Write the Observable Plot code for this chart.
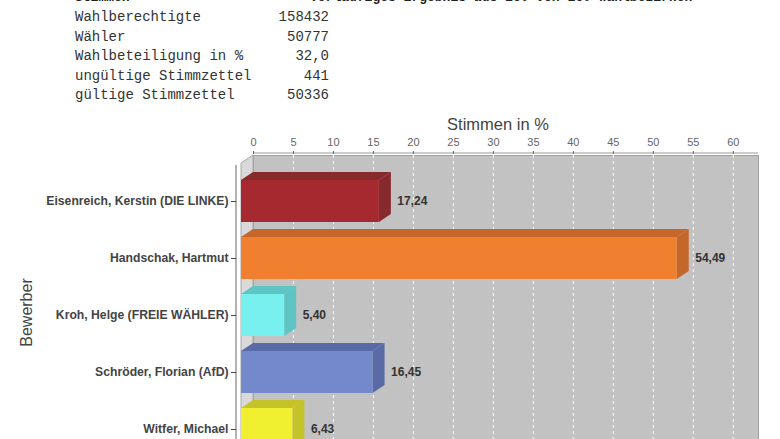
<!DOCTYPE html>
<html>
<head>
<meta charset="utf-8">
<script src="https://cdn.jsdelivr.net/npm/d3@7"></script>
<script src="https://cdn.jsdelivr.net/npm/@observablehq/plot@0.6"></script>
<style>
  html, body { margin: 0; padding: 0; background: #ffffff; overflow: hidden; }
  #page { position: relative; width: 780px; height: 439px; overflow: hidden; }
  .mono { position: absolute; font-family: "Liberation Mono", "DejaVu Sans Mono", monospace; font-size: 14px; line-height: 19.5px; color: #333; white-space: pre; }
  .topline { position: absolute; top: -10px; font-family: "Liberation Mono", monospace; font-weight: bold; font-size: 13px; color: #222; white-space: pre; }
  #chart { position: absolute; left: 0; top: 105px; }
</style>
</head>
<body>
<div id="page">
  <div class="topline" style="left:75px">Stimmen *</div>
  <div class="topline" style="left:310px">Vorläufiges Ergebnis aus 160 von 160 Wahlbezirken</div>
  <div id="infoLabels" class="mono" style="left:75px; top:8px;"></div>
  <div id="infoValues" class="mono" style="left:229px; top:8px; width:100px; text-align:right;"></div>
  <div id="chart"></div>
</div>
<script>
// ---- data ----
const infoLabels = ["Wahlberechtigte", "Wähler", "Wahlbeteiligung in %", "ungültige Stimmzettel", "gültige Stimmzettel"];
const infoValues = ["158432", "50777", "32,0", "441", "50336"];

const names = ["Eisenreich, Kerstin (DIE LINKE)", "Handschak, Hartmut", "Kroh, Helge (FREIE WÄHLER)", "Schröder, Florian (AfD)", "Witfer, Michael"];
const shares = [17.24, 54.49, 5.40, 16.45, 6.43];
const frontColors = ["#a5292e", "#f07f30", "#78f0f0", "#7488cc", "#f0f030"];
const topColors = ["#872a2d", "#c4672a", "#5ec4c4", "#5a6aa6", "#c4c42a"];
const xTicks = [0, 5, 10, 15, 20, 25, 30, 35, 40, 45, 50, 55, 60];
const xTitle = "Stimmen in %";
const yTitle = "Bewerber";

document.getElementById("infoLabels").textContent = infoLabels.join("\n");
document.getElementById("infoValues").textContent = infoValues.join("\n");

const rows = names.map((n, i) => ({name: n, value: shares[i], front: frontColors[i], top: topColors[i]}));
const fmt = v => d3.format(".2f")(v).replace(".", ",");

const DX = 12, DY = 8; // 3D depth offset

function depthFaces(...args) {
  const s = args.find(a => a && typeof a === "object" && !Array.isArray(a) && typeof a.x === "function" && typeof a.y === "function");
  const dims = args.find(a => a && typeof a === "object" && "marginTop" in a && "height" in a);
  const {x, y} = s;
  const bw = typeof y.bandwidth === "function" ? y.bandwidth() : y.bandwidth;
  const g = d3.create("svg:g");
  const x0 = x(0);
  const top = dims.marginTop, bottom = dims.height - dims.marginBottom;
  // left side wall
  g.append("polygon")
    .attr("points", [[x0 - DX, top + DY], [x0, top], [x0, bottom], [x0 - DX, bottom + DY]].join(" "))
    .attr("fill", "#d9d9d9").attr("stroke", "#a8a8a8").attr("stroke-width", 1);
  // top value axis line
  g.append("line")
    .attr("x1", x0).attr("x2", dims.width - dims.marginRight)
    .attr("y1", top - 2).attr("y2", top - 2)
    .attr("stroke", "#999").attr("stroke-width", 1.2);
  // category axis line
  g.append("line")
    .attr("x1", x0 - DX - 5).attr("x2", x0 - DX - 5)
    .attr("y1", top + DY + 2).attr("y2", bottom + DY)
    .attr("stroke", "#999").attr("stroke-width", 1.5);
  // bar top and side faces
  rows.forEach(r => {
    const xl = x(0) - DX, xr = x(r.value) - DX;
    const yt = y(r.name), yb = yt + bw;
    g.append("polygon")
      .attr("points", [[xl, yt], [xr, yt], [xr + DX, yt - DY], [xl + DX, yt - DY]].join(" "))
      .attr("fill", r.top);
    g.append("polygon")
      .attr("points", [[xr, yt], [xr + DX, yt - DY], [xr + DX, yb - DY], [xr, yb]].join(" "))
      .attr("fill", r.top);
  });
  return g.node();
}

const step = 57, pInner = 0.263, pOuter = 0.29;
const yStart = 58;
const yEnd = yStart + step * (names.length - pInner + 2 * pOuter);

const chart = Plot.plot({
  width: 780,
  height: 400,
  marginLeft: 253,
  marginRight: 22,
  marginTop: 50,
  marginBottom: 0,
  style: {fontFamily: "'Liberation Sans', Arial, sans-serif", fontSize: "11px", background: "transparent", color: "#444"},
  x: {domain: [0, 63.15], axis: null},
  y: {domain: names, range: [yStart, yEnd], paddingInner: pInner, paddingOuter: pOuter, axis: null},
  marks: [
    Plot.frame({fill: "#c2c2c2", stroke: "#a0a0a0"}),
    Plot.ruleX(xTicks.slice(1), {stroke: "#ffffff", strokeOpacity: 0.9, strokeDasharray: "3,3"}),
    depthFaces,
    Plot.barX(rows, {x: "value", y: "name", fill: "front", dx: -DX, insetTop: 0, insetBottom: 0}),
    Plot.text(rows, {x: "value", y: "name", text: d => fmt(d.value), dx: 6, textAnchor: "start", fontWeight: "bold", fontSize: 12, fill: "#333"}),
    Plot.axisX({anchor: "top", ticks: xTicks, tickSize: 3, tickPadding: 5, dy: -2, color: "#666", fontSize: 11, label: null}),
    Plot.axisY({anchor: "left", tickSize: 5, tickPadding: 3, dx: -(DX + 5), fontSize: 12.2, fontWeight: "bold", color: "#444", label: null}),
    Plot.text([xTitle], {frameAnchor: "top", dx: -8, dy: -31, fontSize: 16.5, fill: "#444", lineAnchor: "middle"}),
    Plot.text([yTitle], {frameAnchor: "top-left", dx: -227, dy: 157, rotate: -90, fontSize: 16, fill: "#444", textAnchor: "middle", lineAnchor: "middle"})
  ]
});
document.getElementById("chart").appendChild(chart);
</script>
</body>
</html>
